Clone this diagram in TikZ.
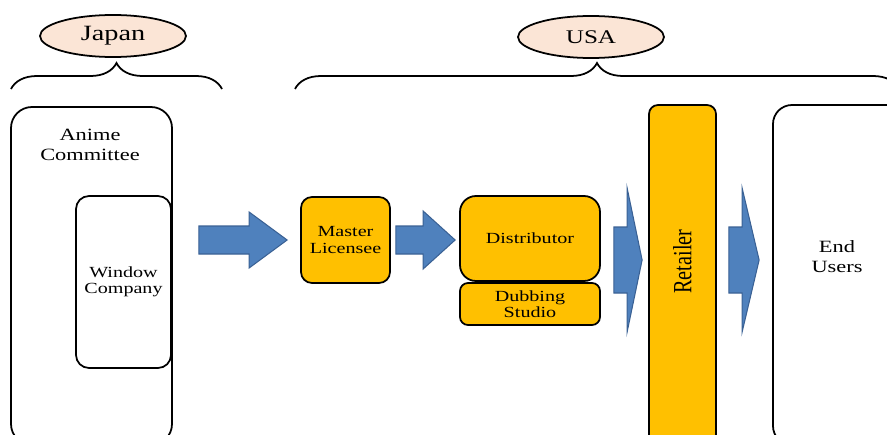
\documentclass[tikz,border=0pt]{standalone}
\usepackage{fontspec}
\setmainfont{Liberation Serif}[FakeStretch=1.3]
\newfontfamily\uprightserif{Liberation Serif}
\usetikzlibrary{calc,shapes.geometric,decorations.pathreplacing}

\definecolor{arrowblue}{HTML}{4F81BD}
\definecolor{arrowedge}{HTML}{3A6194}
\definecolor{boxorange}{HTML}{FFC000}
\definecolor{peach}{HTML}{FBE5D6}

\tikzset{
  plainbox/.style={draw, line width=1pt, fill=white, inner sep=0pt},
  orangebox/.style={draw, line width=1pt, fill=boxorange, inner sep=0pt, align=center},
  country/.style={ellipse, draw, line width=1pt, fill=peach, inner sep=0pt,
    minimum width=2.92cm, minimum height=0.84cm},
  bracket/.style={decorate, decoration={brace, amplitude=0.52cm}, line width=1pt},
  blockarrow/.style={fill=arrowblue, draw=arrowedge, line width=0.6pt},
  smalltext/.style={align=center, font=\fontsize{8.8}{9.2}\selectfont},
  bigtext/.style={align=center, font=\fontsize{9.8}{11.3}\selectfont}
}

% block arrow from tail (#1) to tip (#2): head length, shaft half height, head half height
\def\blockarrow(#1)(#2)(#3:#4:#5){\draw[blockarrow] let \p1=(#1), \p2=(#2) in
  ({\x1},{\y1+#4cm}) -- ({\x2-#3cm},{\y1+#4cm}) -- ({\x2-#3cm},{\y1+#5cm}) -- ({\x2},{\y1})
  -- ({\x2-#3cm},{\y1-#5cm}) -- ({\x2-#3cm},{\y1-#4cm}) -- ({\x1},{\y1-#4cm}) -- cycle;}

\begin{document}
\begin{tikzpicture}
	\useasboundingbox (0,0) rectangle (17.74,8.68);
	\clip (0,0) rectangle (17.74,8.68);
	
	%%%%% countries %%%%%
	\node[country, font=\fontsize{12.4}{14}\selectfont] (japan) at (2.26,7.96) {Japan};
	\node[country, font=\fontsize{11}{13}\selectfont] (usa) at (11.82,7.94) {USA};
	\draw[bracket] (0.22,6.90) -- (4.44,6.90);
	\draw[bracket] (5.90,6.90) -- (17.98,6.90);
	
	%%%%% japan side %%%%%
	\node[plainbox, rounded corners=0.42cm, minimum width=3.22cm, minimum height=6.76cm] (committee) at (1.83,3.16) {};
	\node[bigtext] (committeetxt) at (1.80,5.78) {Anime\\Committee};
	\node[plainbox, rounded corners=0.26cm, minimum width=1.90cm, minimum height=3.44cm, smalltext] (window) at (2.47,3.04) {Window\\Company};
	
	%%%%% usa side %%%%%
	\node[orangebox, rounded corners=0.22cm, minimum width=1.78cm, minimum height=1.72cm, smalltext] (master) at (6.91,3.88) {Master\\Licensee};
	\node[orangebox, rounded corners=0.32cm, minimum width=2.80cm, minimum height=1.70cm, smalltext] (distributor) at (10.60,3.91) {Distributor};
	\node[orangebox, rounded corners=0.16cm, minimum width=2.80cm, minimum height=0.84cm, smalltext] (dubbing) at (10.60,2.60) {Dubbing\\Studio};
	\node[orangebox, rounded corners=0.18cm, minimum width=1.34cm, minimum height=6.80cm] (retailer) at (13.65,3.18) {};
	\node[rotate=90, font=\uprightserif\fontsize{11.5}{12}\selectfont] (retailertxt) at (13.65,3.45) {\scalebox{1}[1.3]{Retailer}};
	\node[plainbox, rounded corners=0.38cm, minimum width=2.64cm, minimum height=6.80cm] (endusers) at (16.78,3.18) {};
	\node[bigtext] (enduserstxt) at (16.74,3.54) {End\\Users};
	
	%%%%% flow arrows %%%%%
	\coordinate (a1s) at ($(committee.east |- master)+(0.52,0)$);
	\coordinate (a1e) at ($(master.west)+(-0.26,0)$);
	\coordinate (a2s) at ($(master.east)+(0.10,0)$);
	\coordinate (a2e) at ($(distributor.west |- master)+(-0.08,0)$);
	\coordinate (a3s) at ($(distributor.east |- 0,3.48)+(0.26,0)$);
	\coordinate (a3e) at ($(retailer.west |- 0,3.48)+(-0.12,0)$);
	\coordinate (a4s) at ($(retailer.east |- 0,3.48)+(0.24,0)$);
	\coordinate (a4e) at ($(endusers.west |- 0,3.48)+(-0.26,0)$);
	
	\blockarrow(a1s)(a1e)(0.76:0.28:0.56)
	\blockarrow(a2s)(a2e)(0.64:0.28:0.58)
	\blockarrow(a3s)(a3e)(0.30:0.66:1.44)
	\blockarrow(a4s)(a4e)(0.34:0.66:1.44)
	
\end{tikzpicture}
\end{document}
